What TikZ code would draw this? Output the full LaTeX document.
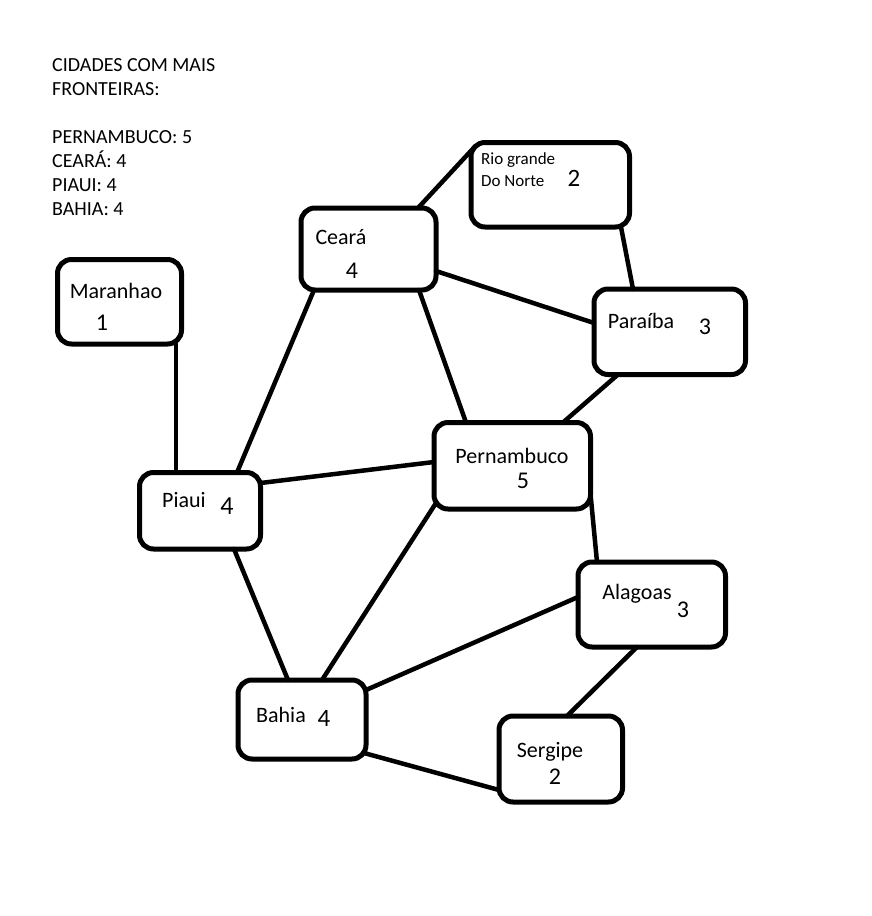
\documentclass[tikz,border=0pt]{standalone}
\usepackage{fontspec}
\setmainfont{Carlito}
\usetikzlibrary{calc}
\begin{document}
\begin{tikzpicture}[x=1pt,y=-1pt,
  box/.style={draw=black, line width=5pt, rounded corners=14pt, outer sep=0pt, inner sep=0pt, fill=white},
  edge/.style={draw=black, line width=4.5pt, line cap=round},
  lbl/.style={anchor=base, inner sep=0pt, font=\fontsize{22}{26}\selectfont},
  num/.style={anchor=base, inner sep=0pt, font=\fontsize{24}{28}\selectfont},
  info/.style={anchor=base west, inner sep=0pt, font=\fontsize{20}{24}\selectfont}]
\useasboundingbox[fill=white] (0,0) rectangle (872,916);

% legend text
\node[info] (t1) at (52,71) {CIDADES COM MAIS};
\node[info] (t2) at (52,95) {FRONTEIRAS:};
\node[info] (t3) at (52,143) {PERNAMBUCO: 5};
\node[info] (t4) at (52,167) {CEARÁ: 4};
\node[info] (t5) at (52,191) {PIAUI: 4};
\node[info] (t6) at (52,215) {BAHIA: 4};

\coordinate (marC) at (119.5,301.75);
\coordinate (ceaC) at (368.5,249);
\coordinate (rgnC) at (550.25,184.75);
\coordinate (parC) at (669.75,331.75);
\coordinate (perC) at (512.25,465.75);
\coordinate (piaC) at (200,510.75);
\coordinate (alaC) at (651.75,604.5);
\coordinate (bahC) at (302,719.5);
\coordinate (serC) at (560.75,759);

\node[box, minimum width=124pt, minimum height=84.5pt] (mar) at (marC) {};
\node[box, minimum width=135pt, minimum height=82pt] (cea) at (ceaC) {};
\node[box, minimum width=158.5pt, minimum height=84.5pt] (rgn) at (rgnC) {};
\node[box, minimum width=151.5pt, minimum height=85.5pt] (par) at (parC) {};
\node[box, minimum width=156.5pt, minimum height=86.5pt] (per) at (perC) {};
\node[box, minimum width=121pt, minimum height=76.5pt] (pia) at (piaC) {};
\node[box, minimum width=147.5pt, minimum height=85pt] (ala) at (alaC) {};
\node[box, minimum width=128pt, minimum height=79pt] (bah) at (bahC) {};
\node[box, minimum width=123.5pt, minimum height=86pt] (ser) at (serC) {};

\draw[edge] ($(mar.south west)+(118.5,0)$) -- ($(pia.north west)+(36.5,0)$);
\draw[edge] ($(pia.north west)+(97.5,0)$) -- ($(cea.south west)+(13,0)$);
\draw[edge] ($(pia.north east)+(0,10.5)$) -- ($(per.north west)+(0,39.5)$);
\draw[edge] ($(pia.south west)+(94.5,0)$) -- ($(bah.north west)+(50,0)$);
\draw[edge] ($(cea.north west)+(117,0)$) -- ($(rgn.north west)+(4,4)$);
\draw[edge] ($(cea.north east)+(0,63)$) -- ($(par.north west)+(0,34)$);
\draw[edge] ($(cea.south west)+(118,0)$) -- ($(per.north west)+(32,0)$);
\draw[edge] ($(rgn.south west)+(150,0)$) -- ($(par.north west)+(39,0)$);
\draw[edge] ($(par.south west)+(24,0)$) -- ($(per.north west)+(129,0)$);
\draw[edge] ($(per.north east)+(0,71.5)$) -- ($(ala.north west)+(19,0)$);
\draw[edge] ($(per.south west)+(2,-6)$) -- ($(bah.north west)+(84,0)$);
\draw[edge] ($(ala.north west)+(0,35)$) -- ($(bah.north east)+(0,10)$);
\draw[edge] ($(ala.south west)+(59,0)$) -- ($(ser.north west)+(68,0)$);
\draw[edge] ($(bah.south east)+(-2,-6)$) -- ($(ser.south west)+(0,-12)$);

% labels
\node[lbl] (marT) at (116,298) {Maranhao};
\node[num] (marN) at (102,330) {1};
\node[lbl] (ceaT) at (341,244) {Ceará};
\node[num] (ceaN) at (352,278) {4};
\node[anchor=base west, inner sep=0pt, font=\fontsize{17}{20}\selectfont] (rgnT1) at (481,164) {Rio grande};
\node[anchor=base west, inner sep=0pt, font=\fontsize{17}{20}\selectfont] (rgnT2) at (481,186) {Do Norte};
\node[num, font=\fontsize{25}{29}\selectfont] (rgnN) at (574,186) {2};
\node[lbl] (parT) at (641,328) {Paraíba};
\node[num] (parN) at (705,334) {3};
\node[lbl] (perT) at (512,463) {Pernambuco};
\node[num] (perN) at (523,488) {5};
\node[lbl] (piaT) at (184,507) {Piaui};
\node[num, font=\fontsize{26}{30}\selectfont] (piaN) at (227,514) {4};
\node[lbl] (alaT) at (637,599) {Alagoas};
\node[num] (alaN) at (683,617) {3};
\node[lbl] (bahT) at (281,722) {Bahia};
\node[num, font=\fontsize{25}{29}\selectfont] (bahN) at (324,726) {4};
\node[lbl] (serT) at (550,757) {Sergipe};
\node[num] (serN) at (555,784) {2};
\end{tikzpicture}
\end{document}
